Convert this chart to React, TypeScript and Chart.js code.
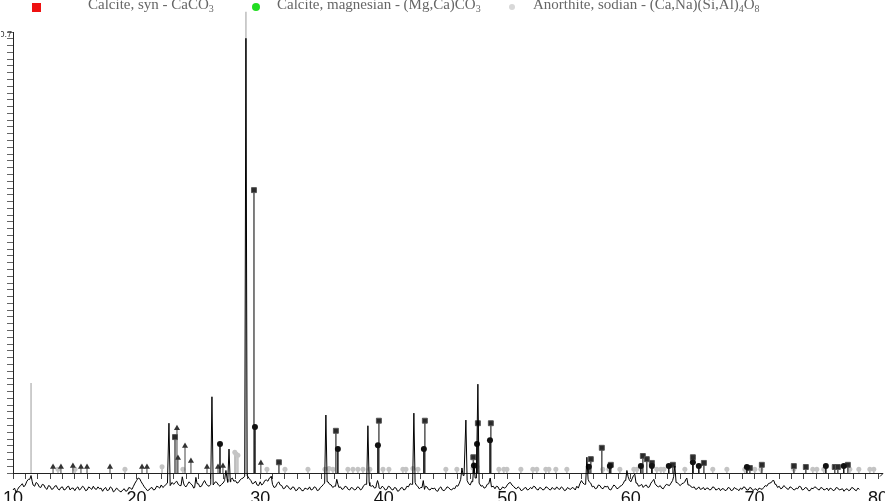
import React, { useEffect, useRef } from 'react';
import { Chart, registerables } from 'chart.js';

Chart.register(...registerables);

// ---- axis settings ----
const xMin = 10;
const xMax = 80;
const yTop = 0.7;
const yTopLabel = '0.7';
const xLabelEvery = 10;

// ---- measured pattern: values every 0.25° from 10° (base) and the in-between readings (mid) ----
const patternStart = 10;
const patternStep = 0.25;
const patternBase = [
  -0.027, -0.031, -0.022, -0.017,
  -0.019, -0.010, -0.014, -0.021,
  -0.017, -0.023, -0.019, -0.026,
  -0.021, -0.025, -0.020, -0.027,
  -0.022, -0.026, -0.021, -0.024,
  -0.028, -0.022, -0.025, -0.023,
  -0.027, -0.024, -0.021, -0.026,
  -0.025, -0.029, -0.023, -0.027,
  -0.024, -0.028, -0.026, -0.030,
  -0.025, -0.028, -0.024, -0.021,
  -0.012, -0.009, -0.018, -0.025,
  -0.027, -0.023, -0.026, -0.022,
  -0.019, -0.021, -0.016, -0.020,
  -0.018, -0.013, -0.020, -0.016,
  -0.022, -0.014, -0.019, -0.023,
  -0.017, -0.021, -0.012, -0.020,
  -0.018, -0.019, -0.015, -0.021,
  -0.016, -0.010, -0.014, -0.008,
  -0.012, -0.015, -0.009, -0.005,
  -0.004, -0.012, -0.016, -0.019,
  -0.014, -0.017, -0.011, -0.008,
  -0.018, -0.022, -0.014, -0.020,
  -0.024, -0.021, -0.026, -0.023,
  -0.027, -0.024, -0.028, -0.025,
  -0.022, -0.026, -0.023, -0.027,
  -0.021, -0.016, -0.014, -0.019,
  -0.021, -0.018, -0.022, -0.025,
  -0.022, -0.027, -0.024, -0.026,
  -0.023, -0.025, -0.018, -0.015,
  -0.021, -0.024, -0.019, -0.025,
  -0.023, -0.026, -0.022, -0.027,
  -0.024, -0.028, -0.023, -0.026,
  -0.022, -0.018, -0.015, -0.021,
  -0.023, -0.026, -0.022, -0.027,
  -0.025, -0.028, -0.024, -0.027,
  -0.026, -0.023, -0.027, -0.025,
  -0.021, -0.010, -0.004, -0.012,
  -0.019, -0.014, -0.008, -0.016,
  -0.020, -0.023, -0.017, -0.022,
  -0.025, -0.022, -0.026, -0.024,
  -0.019, -0.015, -0.021, -0.025,
  -0.024, -0.027, -0.023, -0.026,
  -0.025, -0.022, -0.027, -0.024,
  -0.026, -0.023, -0.027, -0.025,
  -0.022, -0.026, -0.024, -0.027,
  -0.025, -0.023, -0.027, -0.024,
  -0.012, -0.018, -0.010, -0.016,
  -0.021, -0.024, -0.020, -0.025,
  -0.022, -0.026, -0.023, -0.021,
  -0.024, -0.020, -0.012, -0.006,
  -0.014, -0.004, -0.016, -0.020,
  -0.023, -0.019, -0.022, -0.013,
  -0.017, -0.022, -0.024, -0.021,
  -0.019, -0.016, -0.006, -0.015,
  -0.020, -0.016, -0.011, -0.019,
  -0.023, -0.026, -0.022, -0.025,
  -0.027, -0.024, -0.026, -0.023,
  -0.026, -0.028, -0.025, -0.027,
  -0.024, -0.027, -0.025, -0.028,
  -0.026, -0.023, -0.027, -0.024,
  -0.026, -0.028, -0.025, -0.023,
  -0.021, -0.016, -0.012, -0.018,
  -0.021, -0.024, -0.022, -0.026,
  -0.023, -0.027, -0.025, -0.022,
  -0.026, -0.024, -0.028, -0.025,
  -0.023, -0.027, -0.024, -0.026,
  -0.028, -0.025, -0.027, -0.024,
  -0.026, -0.029, -0.025, -0.027,
  -0.024, -0.028, -0.026,
];
const patternMid = [
  -0.024, -0.026, -0.020, -0.022,
  -0.013, -0.016, -0.019, -0.015,
  -0.022, -0.018, -0.024, -0.020,
  -0.026, -0.021, -0.025, -0.023,
  -0.027, -0.022, -0.027, -0.024,
  -0.024, -0.027, -0.021, -0.028,
  -0.022, -0.026, -0.025, -0.022,
  -0.024, -0.025, -0.028, -0.022,
  -0.030, -0.024, -0.029, -0.027,
  -0.029, -0.023, -0.026, -0.016,
  -0.008, -0.014, -0.022, -0.028,
  -0.024, -0.027, -0.021, -0.024,
  -0.023, -0.018, -0.021, -0.015,
  -0.015, -0.018, -0.014, -0.020,
  -0.018, -0.017, -0.024, -0.019,
  -0.022, -0.016, -0.017, -0.021,
  -0.021, -0.014, -0.019, -0.018,
  -0.012, -0.015, -0.010, -0.013,
  -0.016, -0.011, -0.008, -0.009,
  -0.009, -0.017, -0.013, -0.020,
  -0.019, -0.012, -0.013, -0.015,
  -0.023, -0.017, -0.019, -0.025,
  -0.020, -0.025, -0.022, -0.028,
  -0.023, -0.028, -0.024, -0.026,
  -0.027, -0.022, -0.028, -0.023,
  -0.018, -0.017, -0.018, -0.023,
  -0.017, -0.023, -0.026, -0.021,
  -0.026, -0.023, -0.027, -0.022,
  -0.027, -0.020, -0.019, -0.020,
  -0.020, -0.023, -0.024, -0.021,
  -0.027, -0.021, -0.026, -0.023,
  -0.029, -0.024, -0.027, -0.021,
  -0.017, -0.020, -0.019, -0.025,
  -0.027, -0.021, -0.026, -0.024,
  -0.024, -0.029, -0.022, -0.028,
  -0.022, -0.026, -0.024, -0.020,
  -0.016, -0.005, -0.009, -0.017,
  -0.013, -0.012, -0.013, -0.021,
  -0.024, -0.018, -0.023, -0.021,
  -0.021, -0.027, -0.022, -0.023,
  -0.016, -0.019, -0.024, -0.022,
  -0.028, -0.024, -0.027, -0.023,
  -0.021, -0.026, -0.023, -0.027,
  -0.022, -0.026, -0.023, -0.026,
  -0.025, -0.022, -0.028, -0.023,
  -0.026, -0.024, -0.021, -0.017,
  -0.016, -0.013, -0.014, -0.022,
  -0.025, -0.019, -0.024, -0.021,
  -0.021, -0.027, -0.019, -0.025,
  -0.021, -0.017, -0.010, -0.011,
  -0.008, -0.012, -0.021, -0.018,
  -0.020, -0.023, -0.016, -0.018,
  -0.021, -0.020, -0.025, -0.018,
  -0.020, -0.012, -0.010, -0.018,
  -0.017, -0.014, -0.016, -0.022,
  -0.022, -0.025, -0.026, -0.023,
  -0.024, -0.027, -0.022, -0.027,
  -0.024, -0.025, -0.028, -0.023,
  -0.028, -0.023, -0.026, -0.024,
  -0.022, -0.027, -0.023, -0.028,
  -0.025, -0.024, -0.026, -0.020,
  -0.017, -0.015, -0.016, -0.023,
  -0.025, -0.020, -0.025, -0.022,
  -0.026, -0.024, -0.021, -0.027,
  -0.023, -0.028, -0.024, -0.022,
  -0.026, -0.023, -0.027, -0.024,
  -0.024, -0.028, -0.023, -0.027,
  -0.025, -0.026, -0.028, -0.023,
  -0.027, -0.024,
];
// measured peaks (position in °2θ, top value)
const peakPos = [11.46, 22.62, 23.7, 24.8, 26.1, 27.23, 27.48, 28.85, 30.9, 35.32, 36.2, 38.72, 39.5, 42.44, 43.2, 46.33, 46.65, 47.3, 47.62, 48.62, 56.44, 59.68, 60.32, 61.86, 63.56, 64.53, 71.57];
const peakTop = [-0.004, 0.079, -0.006, -0.007, 0.121, 0.004, 0.038, 0.69, -0.005, 0.092, -0.01, 0.075, -0.012, 0.095, -0.012, 0.008, 0.084, 0.015, 0.141, -0.008, 0.025, 0.004, -0.002, -0.01, 0.011, -0.008, -0.012];

// ---- reference stick patterns ----
// Calcite, syn (squares)
const calcitePos = [23.11, 29.5, 31.52, 36.13, 39.61, 43.33, 47.25, 47.62, 48.67, 56.76, 57.65, 58.38, 60.97, 61.29, 61.7, 63.4, 65.02, 65.91, 69.63, 70.6, 73.19, 74.16, 76.5, 76.75, 77.56];
const calciteInt = [0.057, 0.449, 0.017, 0.067, 0.083, 0.083, 0.025, 0.079, 0.079, 0.022, 0.04, 0.013, 0.027, 0.022, 0.016, 0.013, 0.025, 0.016, 0.008, 0.013, 0.011, 0.0095, 0.0095, 0.0095, 0.013];
// Calcite, magnesian (circles)
const mgCalcitePos = [26.75, 29.58, 36.29, 39.53, 43.25, 47.3, 47.55, 48.6, 56.6, 58.3, 60.81, 61.7, 63.07, 65.02, 65.5, 69.39, 75.78, 77.23];
const mgCalciteInt = [0.046, 0.073, 0.038, 0.044, 0.038, 0.012, 0.046, 0.052, 0.01, 0.011, 0.011, 0.011, 0.011, 0.017, 0.011, 0.0095, 0.011, 0.011];
// Anorthite, sodian (light grey)
const anorthitePos = [
  11.46, 13.64, 15.02, 19.06, 22.06, 23.75, 27.95, 28.05, 28.2, 28.85,
  30.55, 32.01, 33.87, 35.24, 35.57, 35.89, 37.1, 37.51, 37.91, 38.32,
  38.88, 39.94, 40.42, 41.55, 41.8, 42.36, 42.77, 45.03, 45.92, 47.22,
  47.54, 49.32, 49.72, 49.97, 51.1, 52.07, 52.39, 53.12, 53.37, 53.93,
  54.82, 57.73, 58.22, 59.11, 60.24, 60.49, 62.1, 62.43, 62.67, 64.37,
  66.63, 67.77, 69.22, 70.03, 70.52, 73.19, 74.72, 75.05, 75.61, 77.72,
  78.45, 79.34, 79.66,
];
const anorthiteInt = [
  0.143, 0.006, 0.006, 0.006, 0.01, 0.006, 0.033, 0.03, 0.028, 0.732,
  0.006, 0.006, 0.006, 0.006, 0.007, 0.006, 0.006, 0.006, 0.006, 0.006,
  0.006, 0.006, 0.006, 0.006, 0.006, 0.007, 0.006, 0.006, 0.006, 0.008,
  0.01, 0.006, 0.006, 0.006, 0.006, 0.006, 0.006, 0.006, 0.006, 0.006,
  0.006, 0.006, 0.006, 0.006, 0.006, 0.006, 0.006, 0.006, 0.006, 0.006,
  0.006, 0.006, 0.006, 0.006, 0.006, 0.006, 0.006, 0.006, 0.006, 0.006,
  0.006, 0.006, 0.006,
];
// fourth phase (triangles)
const phase4Pos = [13.24, 13.88, 14.85, 15.5, 15.99, 17.85, 20.44, 20.84, 23.27, 23.35, 23.92, 24.4, 25.7, 26.59, 26.99, 30.06];
const phase4Int = [0.0095, 0.0095, 0.011, 0.0095, 0.0095, 0.0095, 0.0095, 0.0095, 0.071, 0.024, 0.043, 0.019, 0.0095, 0.0095, 0.011, 0.016];

// ---- legend labels (segments, sub = subscript) ----
const legendCalcite = [{ t: 'Calcite, syn - CaCO', sub: false }, { t: '3', sub: true }];
const legendMgCalcite = [{ t: 'Calcite, magnesian - (Mg,Ca)CO', sub: false }, { t: '3', sub: true }];
const legendAnorthite = [
  { t: 'Anorthite, sodian - (Ca,Na)(Si,Al)', sub: false },
  { t: '4', sub: true },
  { t: 'O', sub: false },
  { t: '8', sub: true },
];

function buildPattern() {
  const pts: { x: number; y: number }[] = [];
  const nearPeak = (x: number) => peakPos.some((p) => Math.abs(x - p) < 0.099);
  patternBase.forEach((v, i) => {
    const x = patternStart + i * patternStep;
    if (!nearPeak(x)) pts.push({ x, y: v });
  });
  patternMid.forEach((v, i) => {
    const x = patternStart + (i + 0.5) * patternStep;
    if (!nearPeak(x)) pts.push({ x, y: v });
  });
  const nearest = (x: number) => {
    const i = Math.max(0, Math.min(patternBase.length - 1, Math.round((x - patternStart) / patternStep)));
    return patternBase[i];
  };
  peakPos.forEach((p, i) => {
    pts.push({ x: p - 0.1, y: nearest(p - 0.1) });
    pts.push({ x: p, y: peakTop[i] });
    pts.push({ x: p + 0.1, y: nearest(p + 0.1) });
  });
  pts.sort((a, b) => a.x - b.x);
  return pts;
}

function buildSticks(pos: number[], h: number[]) {
  const out: any[] = [];
  pos.forEach((p, i) => {
    out.push({ x: p, y: 0 });
    out.push({ x: p, y: h[i], top: true });
    out.push({ x: p, y: null });
  });
  return out;
}

const overlay = {
  id: 'overlay',
  afterDraw(chart: any) {
    const ctx = chart.ctx as CanvasRenderingContext2D;
    const ys = chart.scales.y;
    const xs = chart.scales.x;
    const x0 = chart.chartArea.left;
    ctx.save();
    // vertical axis line
    ctx.strokeStyle = '#222';
    ctx.lineWidth = 1;
    ctx.beginPath();
    ctx.moveTo(x0 + 0.5, ys.getPixelForValue(yTop));
    ctx.lineTo(x0 + 0.5, ys.getPixelForValue(0));
    ctx.stroke();
    // small arrow at the end of the horizontal axis
    const xe = xs.getPixelForValue(xMax);
    const y0 = Math.round(ys.getPixelForValue(0)) + 0.5;
    ctx.beginPath();
    ctx.moveTo(xe, y0);
    ctx.lineTo(xe + 5, y0);
    ctx.lineTo(xe + 2, y0 + 3);
    ctx.stroke();

    // legend
    const drawLabel = (segs: { t: string; sub: boolean }[], x: number, y: number) => {
      let cx = x;
      ctx.fillStyle = '#666';
      ctx.textBaseline = 'alphabetic';
      ctx.textAlign = 'left';
      for (const s of segs) {
        ctx.font = s.sub ? "10px 'Liberation Serif'" : "15px 'Liberation Serif'";
        ctx.fillText(s.t, cx, s.sub ? y + 3 : y);
        cx += ctx.measureText(s.t).width;
      }
    };
    ctx.fillStyle = '#ee1111';
    ctx.fillRect(32, 3, 9, 9);
    drawLabel(legendCalcite, 88, 9);
    ctx.fillStyle = '#22dd22';
    ctx.beginPath();
    ctx.arc(256, 7, 4, 0, Math.PI * 2);
    ctx.fill();
    drawLabel(legendMgCalcite, 277, 9);
    ctx.fillStyle = '#d8d8d8';
    ctx.beginPath();
    ctx.arc(512, 7, 3, 0, Math.PI * 2);
    ctx.fill();
    drawLabel(legendAnorthite, 533, 9);
    ctx.restore();
  },
};

export default function App() {
  const ref = useRef<HTMLCanvasElement>(null);
  useEffect(() => {
    const topRadius = (r: number, maxH = Infinity) => (c: any) =>
      c.raw && c.raw.top && c.raw.y < maxH ? r : 0;
    const chart = new Chart(ref.current!, {
      type: 'line',
      data: {
        datasets: [
          {
            label: 'pattern',
            data: buildPattern(),
            borderColor: '#000',
            borderWidth: 1,
            pointRadius: 0,
            tension: 0,
            clip: false as any,
          },
          {
            label: 'Calcite, magnesian',
            data: buildSticks(mgCalcitePos, mgCalciteInt),
            borderColor: '#111',
            borderWidth: 1.5,
            pointStyle: 'circle',
            pointRadius: topRadius(3),
            pointBackgroundColor: '#111',
            pointBorderColor: '#111',
            pointBorderWidth: 0,
            spanGaps: false,
          },
          {
            label: 'Calcite, syn',
            data: buildSticks(calcitePos, calciteInt),
            borderColor: '#555',
            borderWidth: 1.5,
            pointStyle: 'rect',
            pointRadius: topRadius(3.5),
            pointBackgroundColor: '#2a2a2a',
            pointBorderColor: '#555',
            pointBorderWidth: 1,
            spanGaps: false,
          },
          {
            label: 'phase 4',
            data: buildSticks(phase4Pos, phase4Int),
            borderColor: '#444',
            borderWidth: 1,
            pointStyle: 'triangle',
            pointRadius: topRadius(3.5),
            pointBackgroundColor: '#333',
            pointBorderColor: '#333',
            pointBorderWidth: 0,
            spanGaps: false,
          },
          {
            label: 'Anorthite, sodian',
            data: buildSticks(anorthitePos, anorthiteInt),
            borderColor: '#bdbdbd',
            borderWidth: 1.5,
            pointStyle: 'circle',
            pointRadius: topRadius(2.5, 0.1),
            pointBackgroundColor: '#c4c4c4',
            pointBorderColor: '#c4c4c4',
            pointBorderWidth: 0,
            spanGaps: false,
            clip: false as any,
          },
        ],
      },
      options: {
        responsive: false,
        animation: false,
        layout: { padding: { top: 32, left: 1, right: 7, bottom: 0 } },
        plugins: { legend: { display: false }, tooltip: { enabled: false } },
        scales: {
          x: {
            type: 'linear',
            min: xMin,
            max: xMax,
            position: { y: 0 } as any,
            afterFit: (s: any) => {
              s.paddingLeft = 0;
              s.paddingRight = 0;
            },
            ticks: {
              stepSize: 1,
              autoSkip: false,
              maxRotation: 0,
              padding: 10,
              color: '#111',
              font: { family: "'Liberation Sans'", size: 18 },
              callback: (v: any) => (Number(v) % xLabelEvery === 0 ? String(v) : ''),
            },
            grid: { drawOnChartArea: false, drawTicks: true, tickLength: 5, color: '#444' },
            border: { display: true, color: '#222' },
          },
          y: {
            type: 'linear',
            min: -0.04444,
            max: yTop,
            position: 'left',
            afterBuildTicks: (s: any) => {
              const n = 65;
              const t = [];
              for (let i = 0; i <= n; i++) t.push({ value: (yTop * i) / n });
              s.ticks = t;
            },
            afterFit: (s: any) => {
              s.width = 12;
              s.paddingTop = 0;
              s.paddingBottom = 0;
            },
            ticks: {
              autoSkip: false,
              padding: -5,
              labelOffset: 3,
              color: '#333',
              font: { family: "'Liberation Sans'", size: 9 },
              callback: (v: any) => (Math.abs(Number(v) - yTop) < 1e-6 ? yTopLabel : ''),
            },
            grid: { drawOnChartArea: false, drawTicks: true, tickLength: 6, color: '#666' },
            border: { display: false },
          },
        },
      },
      plugins: [overlay],
    });
    return () => chart.destroy();
  }, []);
  return (
    <div style={{ position: 'absolute', left: 0, top: 0, width: 885, height: 501, background: '#fff' }}>
      <canvas ref={ref} width={885} height={501} style={{ display: 'block' }} />
    </div>
  );
}
